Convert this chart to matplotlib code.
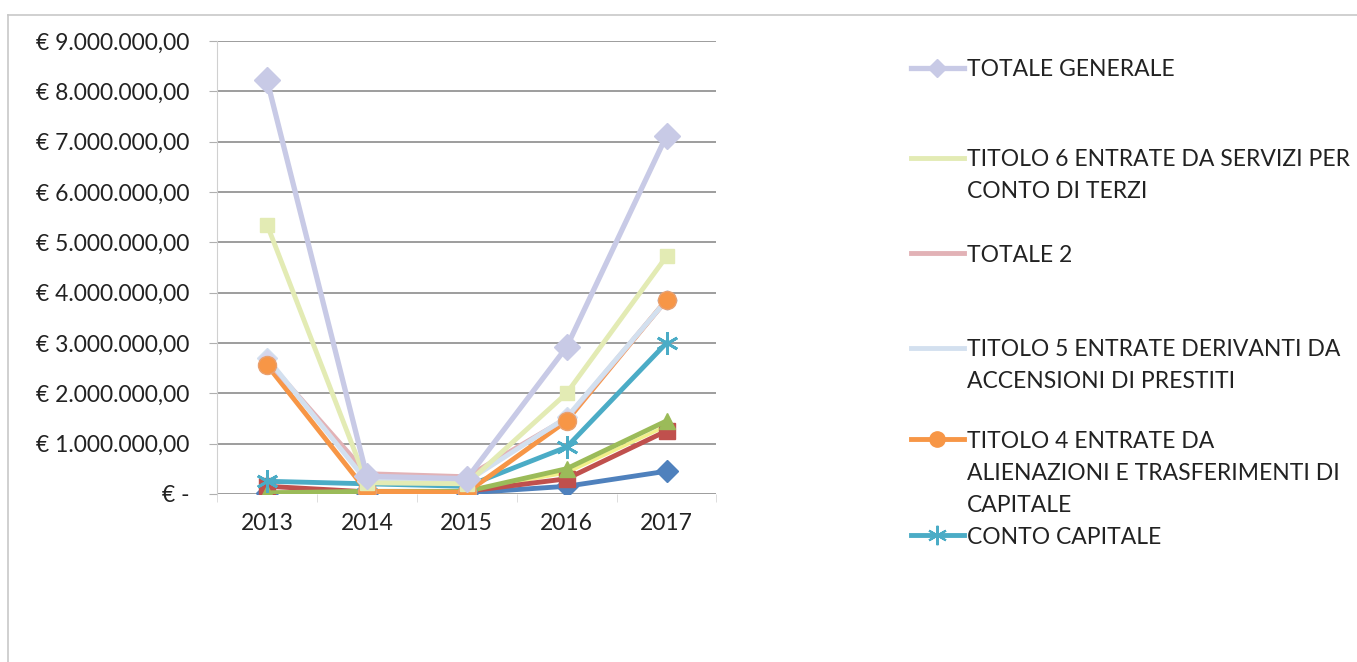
import matplotlib
matplotlib.use("Agg")
import matplotlib.pyplot as plt
from matplotlib.lines import Line2D
from matplotlib.ticker import FuncFormatter, MultipleLocator
import numpy as np

plt.rcParams['font.family'] = ['Lato', 'DejaVu Sans']

# ---- data (euro) ----
years = ["2013", "2014", "2015", "2016", "2017"]

totale_generale = [8220000, 350000, 300000, 2920000, 7120000]
titolo_6 = [5350000, 220000, 200000, 2000000, 4720000]
totale_2 = [2650000, 400000, 340000, 1500000, 3850000]
titolo_5 = [2700000, 250000, 250000, 1520000, 3850000]
titolo_4 = [2560000, 50000, 30000, 1450000, 3860000]
conto_capitale = [250000, 200000, 150000, 930000, 3000000]
# series whose legend entries are cut off in the original
serie_blu = [20000, 20000, 20000, 150000, 450000]
serie_rossa = [150000, 40000, 50000, 300000, 1250000]
serie_verde = [20000, 50000, 50000, 500000, 1450000]
serie_gialla = [30000, 60000, 60000, 420000, 1350000]

labels = [
    ["TOTALE GENERALE"],
    ["TITOLO 6 ENTRATE DA SERVIZI PER", "CONTO DI TERZI"],
    ["TOTALE 2"],
    ["TITOLO 5 ENTRATE DERIVANTI DA", "ACCENSIONI DI PRESTITI"],
    ["TITOLO 4 ENTRATE DA", "ALIENAZIONI E TRASFERIMENTI DI", "CAPITALE"],
    ["CONTO CAPITALE"],
]

FS = 16.5
W, H = 1357, 662
fig = plt.figure(figsize=(W / 100, H / 100), dpi=100)
ax = fig.add_axes([0.160, 0.254, 0.368, 0.684])
x = np.arange(len(years))

# hidden series first (drawn beneath)
ax.plot(x, serie_blu, color="#4F81BD", lw=3.5, marker="D", ms=11, zorder=2)
ax.plot(x, serie_gialla, color="#F2F08A", lw=2.5, zorder=2)
ax.plot(x, serie_rossa, color="#C0504D", lw=3.5, marker="s", ms=11, zorder=2)
ax.plot(x, serie_verde, color="#9BBB59", lw=3.5, marker="^", ms=12, zorder=2)

ax.plot(x, conto_capitale, color="#4BACC6", lw=3.5, marker=(6, 2, 0), ms=16,
        mew=2, zorder=3)
ax.plot(x, titolo_4, color="#F79646", lw=3.5, zorder=3)
ax.plot(x, totale_2, color="#E2B2B6", lw=3.5, zorder=3.2)
ax.plot(x, titolo_5, color="#D3E0EF", lw=3.5, marker="D", ms=10,
        mfc="#D5D6EC", zorder=3.4)
ax.plot(x, titolo_4, ls="none", marker="o", ms=13,
        mfc="#F79646", mec="#E8A070", zorder=3.6)
ax.plot(x, titolo_6, color="#E3EBB4", lw=3.5, marker="s", ms=10, zorder=4)
ax.plot(x, totale_generale, color="#C8CAE6", lw=3.8, marker="D", ms=13, zorder=5)

ax.set_xlim(-0.5, 4.5)
ax.set_ylim(0, 9000000)
ax.yaxis.set_major_locator(MultipleLocator(1000000))


def euro(v, pos):
    if v == 0:
        return "€ -"
    s = f"{v:,.2f}".replace(",", "X").replace(".", ",").replace("X", ".")
    return "€ " + s


ax.yaxis.set_major_formatter(FuncFormatter(euro))
ax.set_xticks(x)
ax.set_xticklabels(years)
ax.set_xticks(np.arange(-0.5, 5, 1), minor=True)
ax.grid(axis="y", color="#8C8C8C", lw=1.2)
ax.set_axisbelow(True)
for side in ["top", "right", "bottom"]:
    ax.spines[side].set_visible(False)
ax.spines["left"].set_color("#D0D0D0")
ax.tick_params(axis="y", length=6, color="#B0B0B0", labelsize=FS, pad=14,
               labelcolor="#222222")
ax.tick_params(axis="x", which="major", length=0, labelsize=FS, pad=14,
               labelcolor="#222222")
ax.tick_params(axis="x", which="minor", length=6, color="#D8D8D8")

handles = [
    Line2D([], [], color="#C8CAE6", lw=3.8, marker="D", ms=9),
    Line2D([], [], color="#E3EBB4", lw=3.5),
    Line2D([], [], color="#E2B2B6", lw=3.5),
    Line2D([], [], color="#D3E0EF", lw=3.5),
    Line2D([], [], color="#F79646", lw=3.5, marker="o", ms=11),
    Line2D([], [], color="#4BACC6", lw=3.5, marker=(6, 2, 0), ms=14, mew=1.5),
]

# legend: one entry per box, first-line centres (px from top) as in the original
first_line_y = [70, 160, 255, 350, 441, 537]
line_step = 32
legends = []
for h, lab, yc in zip(handles, labels, first_line_y):
    leg = fig.legend([h], [lab[0]], loc="center left",
                     bbox_to_anchor=(911 / W, 1 - yc / H), borderaxespad=0,
                     borderpad=0, frameon=False, fontsize=FS,
                     handlelength=2.3, handletextpad=0.15,
                     labelcolor="#222222")
    legends.append(leg)

fig.canvas.draw()
renderer = fig.canvas.get_renderer()
for leg, lab, yc in zip(legends, labels, first_line_y):
    if len(lab) > 1:
        bb = leg.get_texts()[0].get_window_extent(renderer)
        for i, extra in enumerate(lab[1:], start=1):
            fig.text(bb.x0 / W, 1 - (yc + i * line_step) / H, extra,
                     fontsize=FS, color="#222222", va="center", ha="left")

# faint chart border
fig.add_artist(Line2D([0.006, 0.006], [0.0, 0.978], color="#C8C8C8", lw=1.2))
fig.add_artist(Line2D([0.006, 1.0], [0.978, 0.978], color="#C8C8C8", lw=1.2))

fig.savefig("out.png", dpi=100)
